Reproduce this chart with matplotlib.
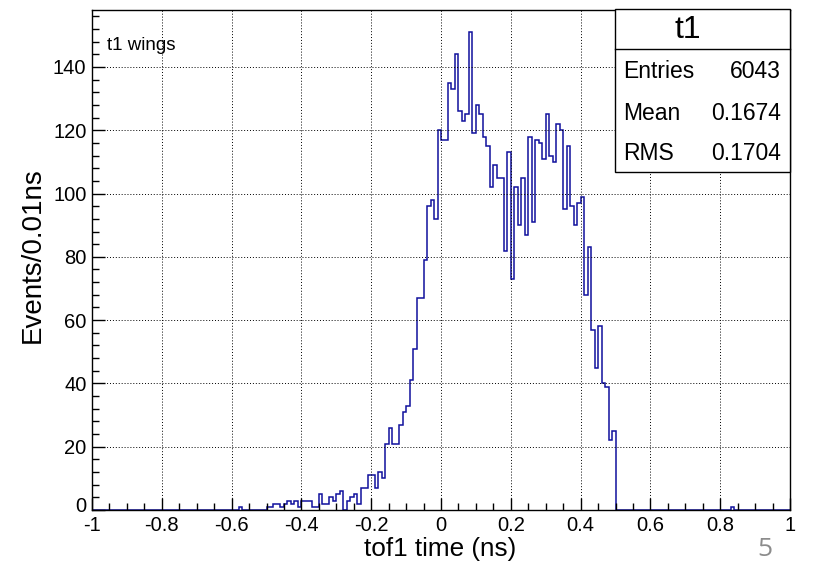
import numpy as np
import matplotlib
matplotlib.use("Agg")
import matplotlib.pyplot as plt
import matplotlib.transforms as mtransforms
from matplotlib.patches import Rectangle
from matplotlib.lines import Line2D
from matplotlib.ticker import MultipleLocator

# ---- data ----
x_min = -1.0
x_max = 1.0
bin_width = 0.01
counts = [
    0, 0, 0, 0, 0, 0, 0, 0, 0, 0,
    0, 0, 0, 0, 0, 0, 0, 0, 0, 0,
    0, 0, 0, 0, 0, 0, 0, 0, 0, 0,
    0, 0, 0, 0, 0, 0, 0, 0, 0, 0,
    0, 0, 1, 0, 0, 0, 0, 0, 0, 0,
    1, 1, 2, 2, 1, 2, 3, 2, 3, 1,
    3, 3, 3, 1, 1, 5, 2, 2, 4, 3,
    5, 6, 0, 3, 4, 5, 2, 7, 7, 11,
    11, 7, 12, 10, 21, 26, 21, 21, 27, 31,
    33, 41, 51, 67, 67, 79, 96, 98, 92, 120,
    117, 117, 135, 133, 144, 126, 123, 125, 151, 119,
    128, 125, 118, 115, 102, 109, 105, 105, 82, 113,
    73, 102, 90, 105, 87, 118, 91, 117, 116, 111,
    125, 112, 110, 122, 120, 95, 115, 96, 90, 97,
    99, 68, 83, 57, 45, 58, 40, 39, 22, 25,
    0, 0, 0, 0, 0, 0, 0, 0, 0, 0,
    0, 0, 0, 0, 0, 0, 0, 0, 0, 0,
    0, 0, 0, 0, 0, 0, 0, 0, 0, 0,
    0, 0, 0, 1, 0, 0, 0, 0, 0, 0,
    0, 0, 0, 0, 0, 0, 0, 0, 0, 0,
]
x_ticks = [-1, -0.8, -0.6, -0.4, -0.2, 0, 0.2, 0.4, 0.6, 0.8, 1]
x_tick_labels = ["-1", "-0.8", "-0.6", "-0.4", "-0.2", "0", "0.2", "0.4", "0.6", "0.8", "1"]
y_ticks = [0, 20, 40, 60, 80, 100, 120, 140]
y_max = 158
hist_name = "t1"
stat_labels = ["Entries", "Mean", "RMS"]
stat_values = ["6043", "0.1674", "0.1704"]
x_title = "tof1 time (ns)"
y_title = "Events/0.01ns"
panel_text = "t1 wings"
slide_number = "5"

# ---- figure ----
W, H = 823, 569
plt.rcParams['font.family'] = ['Liberation Sans', 'DejaVu Sans']
fig = plt.figure(figsize=(W / 100, H / 100), dpi=100)

def fx(px):
    return px / W

def fy(py):
    return 1 - py / H

L, R, T, B = 92, 790, 10, 510
ax = fig.add_axes([fx(L), fy(B), fx(R) - fx(L), fy(T) - fy(B)])

edges = np.linspace(x_min, x_max, len(counts) + 1)
ax.stairs(counts, edges, color='#10109c', linewidth=1.1, baseline=0)

ax.set_xlim(x_min, x_max)
ax.set_ylim(0, y_max)
ax.set_xticks(x_ticks)
ax.set_xticklabels(x_tick_labels)
ax.set_yticks(y_ticks)
ax.xaxis.set_minor_locator(MultipleLocator(0.05))
ax.yaxis.set_minor_locator(MultipleLocator(4))

ax.grid(True, which='major', linestyle=(0, (1, 2)), color='black', linewidth=0.7)
ax.tick_params(which='both', direction='in', top=False, right=False, colors='black',
               labelsize=14.5)
ax.tick_params(which='major', length=9, width=1)
ax.tick_params(which='minor', length=5, width=1)
ax.tick_params(axis='y', pad=4)
ax.tick_params(axis='x', pad=4)
for s in ax.spines.values():
    s.set_linewidth(1.0)
    s.set_color('black')

# nudge the y "0" label up a little so it does not collide with the x "-1" label
ylabels = ax.get_yticklabels()
shift_up = mtransforms.ScaledTranslation(0, 4 / 72, fig.dpi_scale_trans)
ylabels[0].set_transform(ylabels[0].get_transform() + shift_up)

fig.text(fx(440), fy(549), x_title, ha='center', va='center', fontsize=18.8)
fig.text(fx(33), fy(255), y_title, ha='center', va='center', rotation=90, fontsize=20)
fig.text(fx(107), fy(46), panel_text, ha='left', va='center', fontsize=13.5)

# stats box
bx0, bx1, by0, by1, bdiv = 615, 790, 9, 172, 49
fig.patches.append(Rectangle((fx(bx0), fy(by1)), fx(bx1) - fx(bx0), fy(by0) - fy(by1),
                             transform=fig.transFigure, facecolor='white',
                             edgecolor='black', linewidth=1.0, zorder=5))
fig.lines.append(Line2D([fx(bx0), fx(bx1)], [fy(bdiv), fy(bdiv)], transform=fig.transFigure,
                        color='black', linewidth=1.0, zorder=6))
fig.text(fx(688), fy(30), hist_name, ha='center', va='center', fontsize=23, zorder=7)
row_y = [72, 113, 154]
for lab, val, yy in zip(stat_labels, stat_values, row_y):
    fig.text(fx(623), fy(yy), lab, ha='left', va='center', fontsize=16.5, zorder=7)
    fig.text(fx(781), fy(yy), val, ha='right', va='center', fontsize=16.5, zorder=7)

fig.text(fx(765), fy(550), slide_number, ha='center', va='center', fontsize=19,
         color='#8c8c8c', family=['Open Sans', 'DejaVu Sans'])

fig.savefig('out.png', dpi=100)
